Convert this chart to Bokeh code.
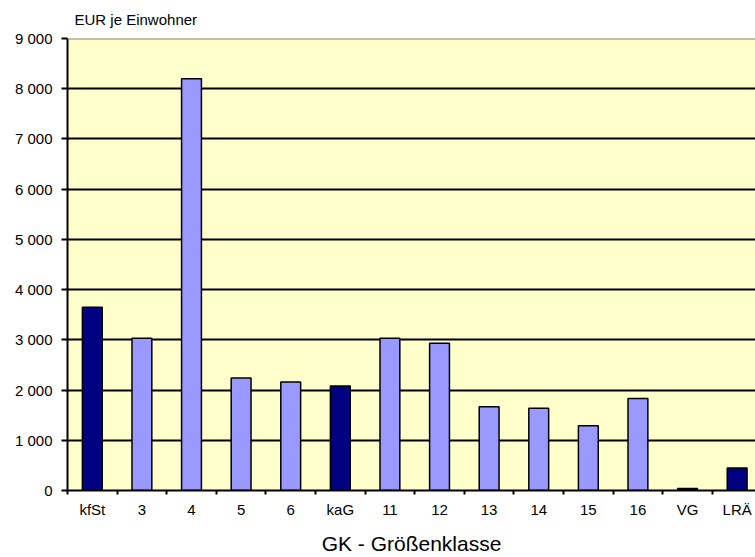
from bokeh.plotting import figure
from bokeh.models import FixedTicker, Span, ColumnDataSource, Range1d
from bokeh.transform import factor_cmap
from bokeh.embed import file_html
from bokeh.resources import INLINE

# ---- data ----
categories = ["kfSt", "3", "4", "5", "6", "kaG", "11", "12", "13", "14", "15", "16", "VG", "LRÄ"]
values = [3650, 3030, 8200, 2240, 2160, 2080, 3030, 2930, 1670, 1640, 1290, 1830, 40, 450]
kinds = ["Summe", "GK", "GK", "GK", "GK", "Summe", "GK", "GK", "GK", "GK", "GK", "GK", "Summe", "Summe"]
y_ticks = [0, 1000, 2000, 3000, 4000, 5000, 6000, 7000, 8000, 9000]
y_tick_labels = ["0", "1 000", "2 000", "3 000", "4 000", "5 000", "6 000", "7 000", "8 000", "9 000"]
y_label = "EUR je Einwohner"
x_label = "GK - Größenklasse"

FONT = "Liberation Sans"

xs = list(range(len(categories)))
src = ColumnDataSource(dict(x=xs, top=values, kind=kinds, cat=categories))

x_start, x_end = -0.5, 13.37
y_start, y_end = y_ticks[0], y_ticks[-1]

p = figure(width=755, height=557,
           x_range=Range1d(x_start, x_end), y_range=Range1d(y_start, y_end),
           output_backend="svg", toolbar_location=None,
           min_border_left=67, min_border_right=0,
           min_border_top=38, min_border_bottom=67)

p.background_fill_color = "#FFFFCC"
p.border_fill_color = "white"
p.outline_line_color = None

# unit label on top
p.title.text = y_label
p.title.align = "left"
p.title.vertical_align = "top"
p.title.offset = 7
p.title.text_font = FONT
p.title.text_font_size = "15px"
p.title.text_font_style = "normal"
p.title.text_color = "black"
p.title.standoff = 18

p.vbar(x="x", top="top", width=0.4, source=src,
       fill_color=factor_cmap("kind", ["#000080", "#9999FF"], ["Summe", "GK"]),
       line_color="black", line_width=1.5)

# grid
p.xgrid.visible = False
p.ygrid.ticker = FixedTicker(ticks=y_ticks[1:-1])
p.ygrid.grid_line_color = "black"
p.ygrid.grid_line_width = 2
p.add_layout(Span(location=y_end, dimension="width", line_color="#808080", line_width=2))

# y axis
p.yaxis.ticker = FixedTicker(ticks=y_ticks)
p.yaxis.major_label_overrides = {t: l for t, l in zip(y_ticks, y_tick_labels)}
p.yaxis.axis_line_width = 2
p.yaxis.axis_line_color = "black"
p.yaxis.major_tick_line_width = 2
p.yaxis.major_tick_out = 6
p.yaxis.major_tick_in = 0
p.yaxis.minor_tick_line_color = None
p.yaxis.major_label_standoff = 9
p.yaxis.major_label_text_font = FONT
p.yaxis.major_label_text_font_size = "15px"
p.yaxis.major_label_text_color = "black"

# x axis: labels at centers, tick marks at boundaries (minor ticks)
p.xaxis.ticker = FixedTicker(ticks=xs, minor_ticks=[i - 0.5 for i in range(len(categories) + 1)])
p.xaxis.major_label_overrides = {x: c for x, c in zip(xs, categories)}
p.xaxis.axis_line_width = 2
p.xaxis.axis_line_color = "black"
p.xaxis.major_tick_line_color = None
p.xaxis.major_tick_out = 0
p.xaxis.major_tick_in = 0
p.xaxis.minor_tick_line_color = "black"
p.xaxis.minor_tick_line_width = 2
p.xaxis.minor_tick_out = 4
p.xaxis.minor_tick_in = 0
p.xaxis.major_label_standoff = 6
p.xaxis.major_label_text_font = FONT
p.xaxis.major_label_text_font_size = "15px"
p.xaxis.major_label_text_color = "black"

p.xaxis.axis_label = x_label
p.xaxis.axis_label_text_font = FONT
p.xaxis.axis_label_text_font_size = "21px"
p.xaxis.axis_label_text_font_style = "normal"
p.xaxis.axis_label_text_color = "black"
p.xaxis.axis_label_standoff = 11

open("out.html", "w").write(file_html(p, INLINE))
